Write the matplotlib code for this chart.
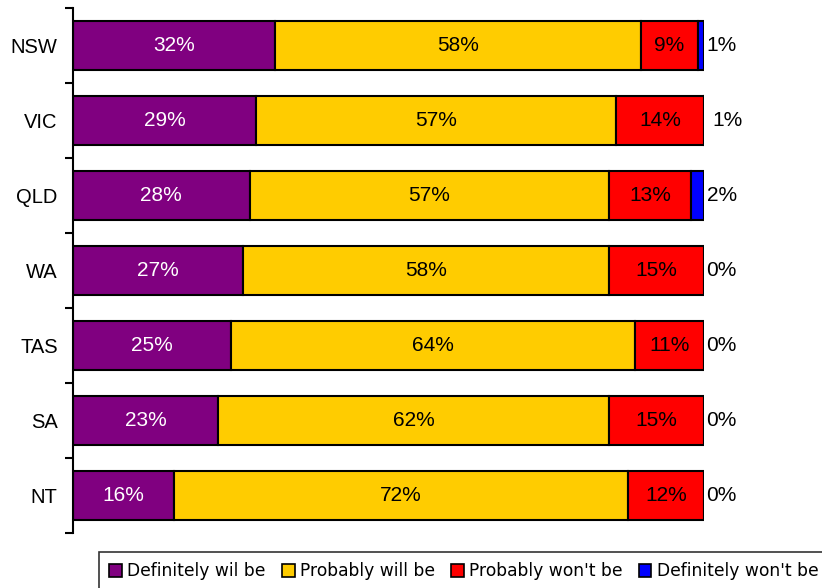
import matplotlib.pyplot as plt
import numpy as np

# data
states = ['NSW', 'VIC', 'QLD', 'WA', 'TAS', 'SA', 'NT']
definitely_will = [32, 29, 28, 27, 25, 23, 16]
probably_will = [58, 57, 57, 58, 64, 62, 72]
probably_wont = [9, 14, 13, 15, 11, 15, 12]
definitely_wont = [1, 1, 2, 0, 0, 0, 0]

series_names = ['Definitely wil be', 'Probably will be', "Probably won't be", "Definitely won't be"]
colors = ['#800080', '#FFCC00', '#FF0000', '#0000FF']
text_colors = ['white', 'black', 'black', 'black']

plt.rcParams['font.family'] = ['Liberation Sans', 'DejaVu Sans']

fig = plt.figure(figsize=(8.22, 5.88), dpi=100)
ax = fig.add_axes([73 / 822, 1 - 533 / 588, 631 / 822, 525 / 588])

y = np.arange(len(states))
series = [definitely_will, probably_will, probably_wont, definitely_wont]
left = np.zeros(len(states))
for i, vals in enumerate(series):
    vals = np.array(vals, dtype=float)
    ax.barh(y, vals, left=left, height=0.66, color=colors[i],
            edgecolor='black', linewidth=1.5, label=series_names[i])
    for j, v in enumerate(vals):
        if i < 3:
            ax.text(left[j] + v / 2, y[j], f'{int(v)}%', ha='center', va='center',
                    fontsize=15, color=text_colors[i])
        else:
            ax.text(left[j] + v + 0.4, y[j], f'{int(v)}%', ha='left', va='center',
                    fontsize=15, color='black')
    left += vals

ax.set_xlim(0, 100)
ax.set_ylim(6.5, -0.5)
ax.set_xticks([])
for s in ['top', 'right', 'bottom']:
    ax.spines[s].set_visible(False)
ax.spines['left'].set_linewidth(1.5)

# tick marks between categories, labels at bar centres
ax.set_yticks(np.arange(-0.5, 7, 1))
ax.set_yticklabels([])
ax.tick_params(axis='y', which='major', length=6, width=1.5)
ax.set_yticks(y, minor=True)
ax.set_yticklabels(states, minor=True, fontsize=14.5)
ax.tick_params(axis='y', which='minor', length=0, pad=11)

leg = fig.legend(loc='upper left', bbox_to_anchor=(99 / 822, 1 - 552 / 588), ncol=4,
                 prop={'family': 'DejaVu Sans', 'size': 12.3}, frameon=True, fancybox=False,
                 handlelength=0.75, handleheight=0.75, handletextpad=0.3,
                 columnspacing=0.95, borderpad=0.6, borderaxespad=0)
leg.get_frame().set_edgecolor('black')
leg.get_frame().set_linewidth(1.2)
for h in leg.legend_handles:
    h.set_linewidth(1.2)

fig.savefig('out.png', dpi=100)
